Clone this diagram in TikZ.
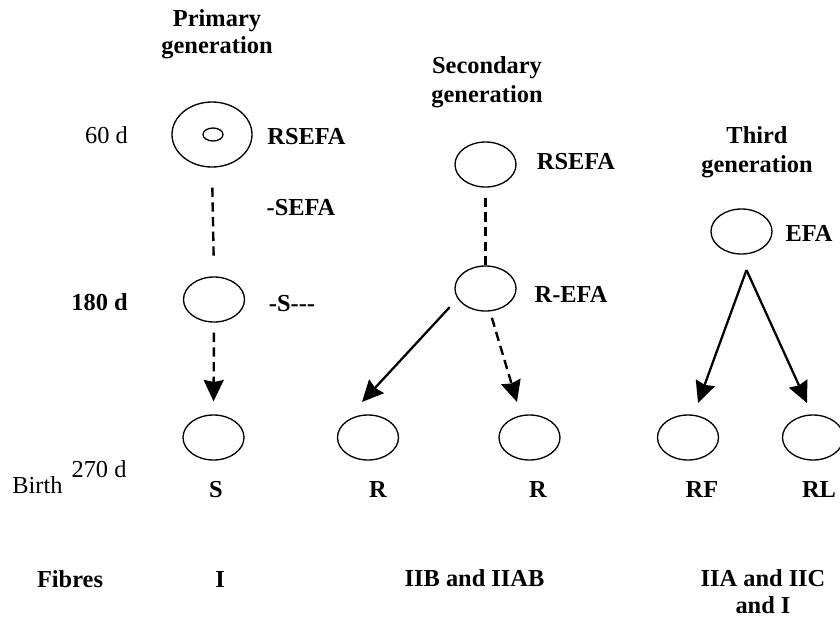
\documentclass[tikz,border=0pt]{standalone}
\usepackage{fontspec}
\setmainfont{Liberation Serif}
\usetikzlibrary{arrows.meta,shapes.geometric}
\begin{document}
\begin{tikzpicture}[x=0.75pt,y=-0.75pt,
  cell/.style={draw, ellipse, line width=1pt, minimum width=45.75pt, minimum height=33.75pt, inner sep=0pt},
  lab/.style={font=\fontsize{18.3}{22}\selectfont\bfseries, anchor=base, inner sep=0pt},
  rlab/.style={font=\fontsize{18.3}{22}\selectfont, anchor=base, inner sep=0pt},
  tipped/.style={-{Stealth[length=16pt,width=15pt,inset=1.5pt]}},
  solidline/.style={line width=1.7pt},
  dline/.style={line width=1.8pt, dash pattern=on 7pt off 4pt},
]
\useasboundingbox (0,0) rectangle (840,618);

% ellipses
\node[cell, minimum width=60pt, minimum height=48.75pt] (P1) at (212,134.5) {};
\node[draw, ellipse, line width=1pt, minimum width=15pt, minimum height=9.75pt, inner sep=0pt] (P1in) at (213,134.5) {};
\node[cell] (P2) at (214,299.5) {};
\node[cell] (S) at (213.5,437.5) {};
\node[cell] (S2) at (485.5,164.5) {};
\node[cell] (REFA) at (485.5,288.5) {};
\node[cell] (R1) at (368,437.5) {};
\node[cell] (R2) at (529.5,437.5) {};
\node[cell] (EFA) at (741.5,231.5) {};
\node[cell] (RF) at (688,437.5) {};
\node[cell] (RL) at (813,437.5) {};

% free ends
\coordinate (t1) at (362,402);
\coordinate (t2) at (517,402);
\coordinate (apex) at (746.5,270);
\coordinate (t3) at (698,403);
\coordinate (t4) at (807,403);

% connectors
\draw[dline, shorten <=15pt, shorten >=15pt] (P1.south) -- (P2.north);
\draw[dline, tipped, shorten <=7.5pt, shorten >=9.75pt] (P2.south) -- (S.north);
\draw[dline, shorten <=7.5pt] (S2.south) -- (REFA.north);
\draw[solidline, tipped, shorten <=8.6pt] (REFA.200) -- (t1);
\draw[dline, tipped, shorten <=5pt] (REFA.281) -- (t2);
\draw[solidline, tipped] (apex) -- (t3);
\draw[solidline, tipped] (apex) -- (t4);

% texts
\node[lab] (h1a) at (217,26) {Primary};
\node[lab] (h1b) at (217,53) {generation};
\node[lab] (h2a) at (487,73) {Secondary};
\node[lab] (h2b) at (487,102) {generation};
\node[lab] (h3a) at (757,143) {Third};
\node[lab] (h3b) at (757,172) {generation};

\node[rlab] (d60) at (106.5,143) {60 d};
\node[lab] (d180) at (99.5,310) {180 d};
\node[rlab] (d270) at (99,477) {270 d};
\node[rlab] (birth) at (37.5,493) {Birth};

\node[lab] (lRSEFA1) at (306.5,144) {RSEFA};
\node[lab] (lSEFA) at (301,215) {-SEFA};
\node[lab] (lS4) at (292,311) {-S-{}-{}-};
\node[lab] (lRSEFA2) at (576,169) {RSEFA};
\node[lab] (lREFA) at (571,302) {R-EFA};
\node[lab] (lEFA) at (809,241) {EFA};

\node[lab] (lS) at (216,497) {S};
\node[lab] (lR1) at (378,497) {R};
\node[lab] (lR2) at (538,497) {R};
\node[lab] (lRF) at (702,497) {RF};
\node[lab] (lRL) at (819,497) {RL};

\node[lab] (fib) at (70,587) {Fibres};
\node[lab] (fI) at (220,587) {I};
\node[lab] (fIIB) at (474.5,586) {IIB and IIAB};
\node[lab] (fIIA) at (763,586) {IIA and IIC};
\node[lab] (fandI) at (763,613) {and I};
\end{tikzpicture}
\end{document}
